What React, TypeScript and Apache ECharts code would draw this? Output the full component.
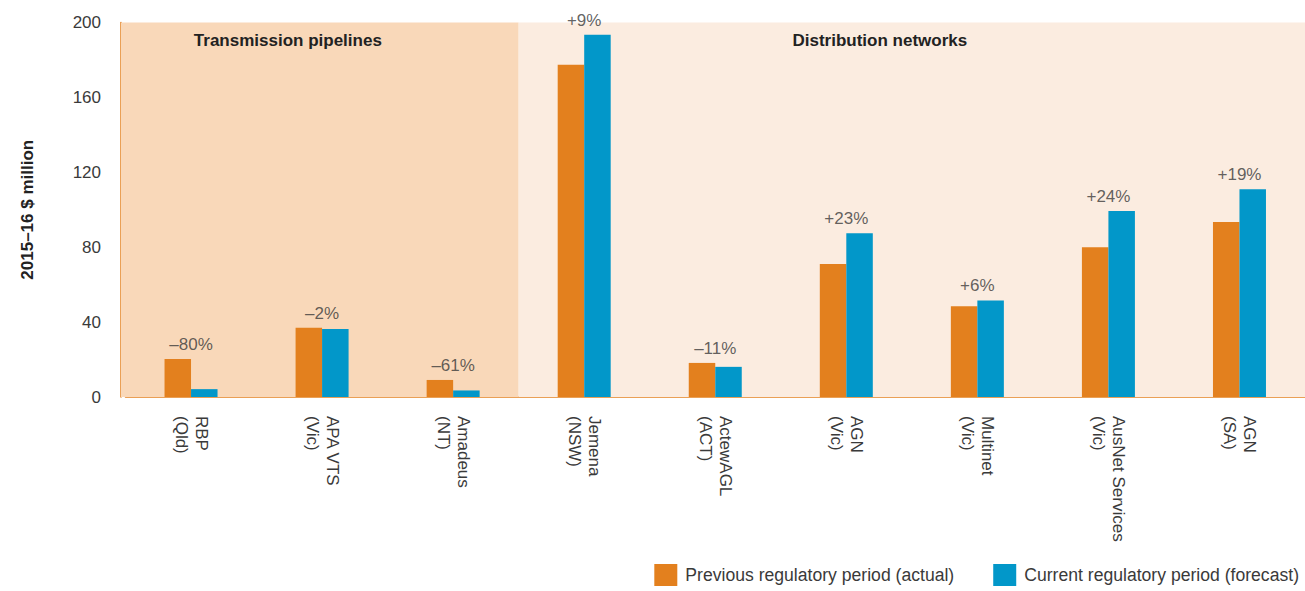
import React, { useEffect, useRef } from 'react';
import * as echarts from 'echarts';

const categories = [
  'RBP\n(Qld)',
  'APA VTS\n(Vic)',
  'Amadeus\n(NT)',
  'Jemena\n(NSW)',
  'ActewAGL\n(ACT)',
  'AGN\n(Vic)',
  'Multinet\n(Vic)',
  'AusNet Services\n(Vic)',
  'AGN\n(SA)',
];
const previous = [20.3, 37, 9.1, 177.5, 18.2, 71, 48.5, 80, 93.5];
const current = [4.2, 36.3, 3.5, 193.5, 16.1, 87.5, 51.6, 99.3, 111];
const changeLabels = ['–80%', '–2%', '–61%', '+9%', '–11%', '+23%', '+6%', '+24%', '+19%'];
const segments = [
  { name: 'Transmission pipelines', start: 0, end: 3, color: '#f9d8b9' },
  { name: 'Distribution networks', start: 3, end: 9, color: '#fbece0' },
];
const seriesNames = ['Previous regulatory period (actual)', 'Current regulatory period (forecast)'];
const yMin = 0;
const yMax = 200;
const yInterval = 40;

const ORANGE = '#e3801e';
const BLUE = '#0297c9';
const FONT = '"Liberation Sans", Arial, sans-serif';
const TEXT = '#3a3a3a';

const WIDTH = 1305;
const AXIS_X = 121;
const BAND_START = 125.5;
const TOP = 22.5;
const BOTTOM = 194;

export default function App() {
  const ref = useRef<HTMLDivElement>(null);
  useEffect(() => {
    if (!ref.current) return;
    const chart = echarts.init(ref.current, undefined, { renderer: 'svg' });
    const tops = previous.map((p, i) => Math.max(p, current[i]));
    const bandW = (WIDTH - BAND_START) / categories.length;
    const pad = (BAND_START - AXIS_X) / bandW;
    chart.setOption({
      animation: false,
      backgroundColor: '#ffffff',
      textStyle: { fontFamily: FONT },
      grid: [
        { left: BAND_START, right: 0, top: TOP, bottom: BOTTOM, containLabel: false },
        { left: AXIS_X, right: 0, top: TOP, bottom: BOTTOM, containLabel: false },
      ],
      legend: {
        data: seriesNames,
        right: 1,
        bottom: 0,
        itemWidth: 23,
        itemHeight: 22,
        itemGap: 39,
        icon: 'rect',
        textStyle: { fontSize: 17.6, color: TEXT, fontFamily: FONT, padding: [0, 0, 0, 3] },
      },
      xAxis: [
        {
          type: 'category',
          gridIndex: 0,
          data: categories,
          axisLine: { show: true, lineStyle: { color: ORANGE, width: 1.5 } },
          axisTick: { show: false },
          axisLabel: {
            rotate: -90,
            margin: 19,
            fontSize: 17,
            color: TEXT,
            fontFamily: FONT,
            lineHeight: 20,
            interval: 0,
          },
          splitLine: { show: false },
        },
        {
          type: 'value',
          gridIndex: 1,
          min: -pad,
          max: categories.length,
          show: false,
        },
      ],
      yAxis: [
        {
          type: 'value',
          gridIndex: 0,
          min: yMin,
          max: yMax,
          interval: yInterval,
          offset: BAND_START - AXIS_X,
          name: '2015–16 $ million',
          nameLocation: 'middle',
          nameGap: 85,
          nameTextStyle: { fontSize: 17, fontWeight: 'bold', color: '#222', fontFamily: FONT },
          axisLine: { show: true, lineStyle: { color: ORANGE, width: 1.5 } },
          axisTick: { show: false },
          axisLabel: { margin: 20, fontSize: 17, color: TEXT, fontFamily: FONT },
          splitLine: { show: true, lineStyle: { color: '#ffffff', width: 1.5 } },
        },
        {
          type: 'value',
          gridIndex: 1,
          min: yMin,
          max: yMax,
          show: false,
        },
      ],
      series: [
        {
          type: 'line',
          xAxisIndex: 1,
          yAxisIndex: 1,
          data: [],
          z: -1,
          silent: true,
          markArea: {
            silent: true,
            data: segments.map((s) => [
              {
                xAxis: s.start === 0 ? -pad : s.start,
                name: s.name,
                itemStyle: { color: s.color },
                label: {
                  show: true,
                  position: 'insideTop',
                  distance: 9,
                  offset: [-32, 0],
                  fontSize: 17,
                  fontWeight: 'bold',
                  color: '#222',
                  fontFamily: FONT,
                },
              },
              { xAxis: s.end },
            ]),
          },
        },
        {
          name: seriesNames[0],
          type: 'bar',
          data: previous,
          barWidth: 26.5,
          barGap: '0%',
          itemStyle: { color: ORANGE },
        },
        {
          name: seriesNames[1],
          type: 'bar',
          data: current,
          barWidth: 26.5,
          barGap: '0%',
          itemStyle: { color: BLUE },
        },
        {
          type: 'scatter',
          data: tops,
          symbolSize: 0,
          silent: true,
          label: {
            show: true,
            position: 'top',
            distance: 6,
            fontSize: 17,
            color: TEXT,
            fontFamily: FONT,
            formatter: (p: any) => changeLabels[p.dataIndex],
          },
        },
      ],
    });
    return () => chart.dispose();
  }, []);
  return (
    <div
      ref={ref}
      style={{ position: 'fixed', left: 0, top: 0, width: WIDTH, height: 591 }}
    />
  );
}
